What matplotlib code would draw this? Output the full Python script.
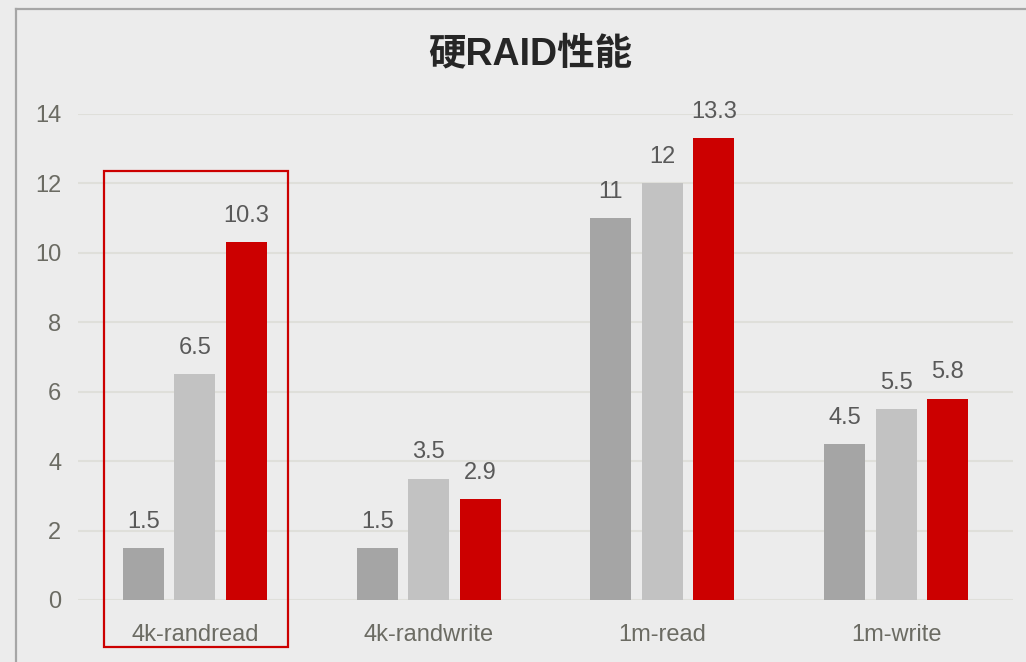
import matplotlib
matplotlib.use("Agg")
import matplotlib.pyplot as plt
from matplotlib.patches import Rectangle
from matplotlib.lines import Line2D
import numpy as np

categories = ["4k-randread", "4k-randwrite", "1m-read", "1m-write"]
series_a = [1.5, 1.5, 11, 4.5]
series_b = [6.5, 3.5, 12, 5.5]
series_c = [10.3, 2.9, 13.3, 5.8]
labels_a = ["1.5", "1.5", "11", "4.5"]
labels_b = ["6.5", "3.5", "12", "5.5"]
labels_c = ["10.3", "2.9", "13.3", "5.8"]
yticks = [0, 2, 4, 6, 8, 10, 12, 14]
title = "硬RAID性能"

plt.rcParams['font.family'] = ['Liberation Sans', 'Noto Sans CJK SC', 'DejaVu Sans']

W, H = 1026, 662
fig = plt.figure(figsize=(W/100, H/100), dpi=100)
bg = "#ececec"
fig.patch.set_facecolor(bg)

ax = fig.add_axes([78/W, 1-600/H, (1013-78)/W, (600-114)/H])
ax.set_facecolor(bg)
ax.set_xlim(-0.5, 3.5)
ax.set_ylim(0, 14)

x = np.arange(len(categories))
w = 0.175
step = 0.22
colors = ["#a5a5a5", "#c2c2c2", "#cc0000"]
for off, vals, labs, c in [(-step, series_a, labels_a, colors[0]),
                           (0, series_b, labels_b, colors[1]),
                           (step, series_c, labels_c, colors[2])]:
    ax.bar(x + off, vals, width=w, color=c, zorder=3)
    for xi, v, l in zip(x + off, vals, labs):
        ax.annotate(l, (xi, v), xytext=(0, 11), textcoords="offset points",
                    ha="center", va="bottom", fontsize=17, color="#595959")

ax.set_yticks(yticks)
ax.set_yticklabels([str(t) for t in yticks])
ax.set_xticks(x)
ax.set_xticklabels(categories)
ax.tick_params(axis="y", length=0, pad=12, labelsize=17, labelcolor="#6b6b63")
ax.tick_params(axis="x", length=0, pad=17, labelsize=17, labelcolor="#6b6b63")
ax.grid(axis="y", color="#dfdfda", linewidth=1.5, zorder=0)
for s in ax.spines.values():
    s.set_visible(False)

# highlight box around first group
rect = Rectangle((-0.389, -1.35), 0.787, 13.71, fill=False, edgecolor="#cc0000",
                 linewidth=1.6, clip_on=False, zorder=5)
ax.add_patch(rect)

# outer border (left and top)
fig.add_artist(Line2D([16/W, 16/W], [0, 1-9/H], color="#a6a6a6", linewidth=1.6,
                      transform=fig.transFigure))
fig.add_artist(Line2D([16/W, 1], [1-9/H, 1-9/H], color="#a6a6a6", linewidth=1.6,
                      transform=fig.transFigure))

fig.text(530/W, 1-54/H, title, ha="center", va="center", fontsize=27,
         fontweight="bold", color="#262626",
         family=['Liberation Sans', 'Noto Sans CJK SC'])

fig.savefig("out.png", dpi=100, facecolor=bg)
